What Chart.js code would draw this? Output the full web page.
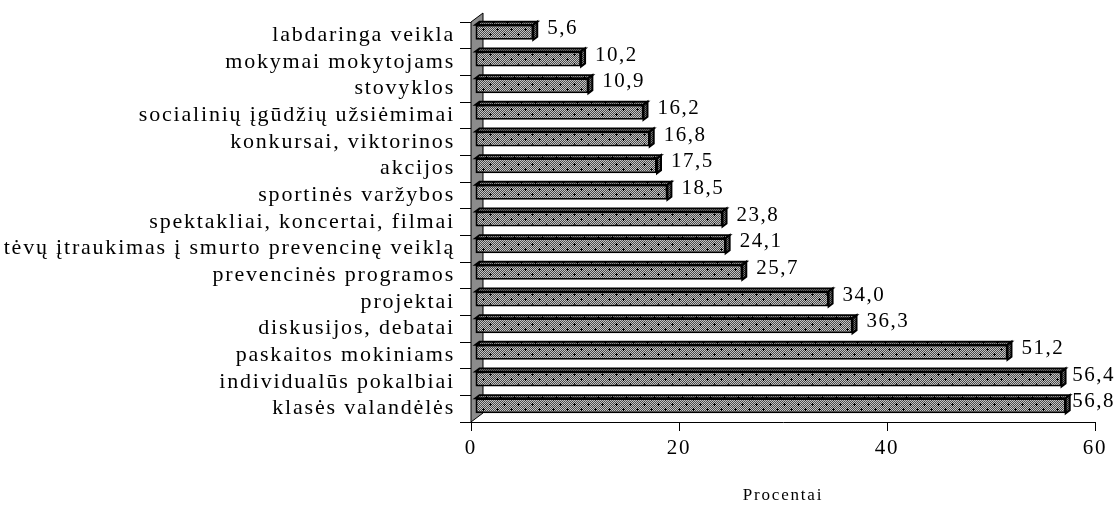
<!DOCTYPE html>
<html>
<head>
<meta charset="utf-8">
<script src="https://cdn.jsdelivr.net/npm/chart.js@4.4.0/dist/chart.umd.min.js"></script>
<style>
  html, body { margin: 0; padding: 0; background: #fff; }
  #wrap { width: 1118px; height: 506px; }
</style>
</head>
<body>
<div id="wrap"><canvas id="c" width="1118" height="506"></canvas></div>
<script>
// Prevencinės veiklos formos (procentai)
const categories = [
  'labdaringa veikla',
  'mokymai mokytojams',
  'stovyklos',
  'socialinių įgūdžių užsiėmimai',
  'konkursai, viktorinos',
  'akcijos',
  'sportinės varžybos',
  'spektakliai, koncertai, filmai',
  'tėvų įtraukimas į smurto prevencinę veiklą',
  'prevencinės programos',
  'projektai',
  'diskusijos, debatai',
  'paskaitos mokiniams',
  'individualūs pokalbiai',
  'klasės valandėlės'
];
const percentages = [5.6, 10.2, 10.9, 16.2, 16.8, 17.5, 18.5, 23.8, 24.1, 25.7, 34.0, 36.3, 51.2, 56.4, 56.8];
const valueTicks = [0, 20, 40, 60];
const axisTitle = 'Procentai';

const FONT = '"Liberation Serif", "Times New Roman", serif';
const SPACING = '1.8px';
// 3D look: bars sit slightly behind the front plane, the side wall is deeper
const BAR_SHIFT = { dx: 4, dy: -3 };
const BAR_DEPTH = { dx: 4, dy: -3 };
const WALL_DEPTH = { dx: 12, dy: -9 };

function dither(dark, light, marks) {
  const w = 14, h = 10;
  const cv = document.createElement('canvas');
  cv.width = w; cv.height = h;
  const g = cv.getContext('2d');
  for (let y = 0; y < h; y++) {
    for (let x = 0; x < w; x++) {
      g.fillStyle = (x + y) % 2 === 0 ? dark : light;
      g.fillRect(x, y, 1, 1);
    }
  }
  if (marks) {
    g.fillStyle = '#000';
    [[3, 2], [10, 7]].forEach(([px, py]) => {
      g.fillRect(px - 1, py, 3, 1);
      g.fillRect(px, py - 1, 1, 3);
    });
  }
  return g.createPattern(cv, 'repeat');
}

const canvas = document.getElementById('c');
const ctx = canvas.getContext('2d');
const facePattern = dither('#4a4a4a', '#c4c4c4', true);
const sidePattern = dither('#1e1e1e', '#7a7a7a', false);

const letterSpacing = {
  id: 'letterSpacing',
  beforeLayout(chart) { chart.ctx.letterSpacing = SPACING; },
  beforeDraw(chart) { chart.ctx.letterSpacing = SPACING; }
};

const depth3d = {
  id: 'depth3d',
  beforeDatasetsDraw(chart) {
    const c = chart.ctx;
    const xs = chart.scales.x;
    const area = chart.chartArea;
    const x0 = xs.getPixelForValue(0);
    // side wall at zero
    c.save();
    c.beginPath();
    c.moveTo(x0, area.bottom);
    c.lineTo(x0, area.top);
    c.lineTo(x0 + WALL_DEPTH.dx, area.top + WALL_DEPTH.dy);
    c.lineTo(x0 + WALL_DEPTH.dx, area.bottom + WALL_DEPTH.dy);
    c.closePath();
    c.fillStyle = '#8c8c8c';
    c.fill();
    c.lineWidth = 1;
    c.strokeStyle = '#000';
    c.stroke();

    // top and side faces of every bar
    const meta = chart.getDatasetMeta(0);
    c.lineWidth = 2;
    c.lineJoin = 'miter';
    meta.data.forEach(el => {
      const p = el.getProps(['x', 'y', 'base', 'height'], true);
      const left = p.base + BAR_SHIFT.dx;
      const right = p.x + BAR_SHIFT.dx;
      const top = p.y - p.height / 2 + BAR_SHIFT.dy;
      const bottom = p.y + p.height / 2 + BAR_SHIFT.dy;
      c.beginPath();
      c.moveTo(left, top);
      c.lineTo(left + BAR_DEPTH.dx, top + BAR_DEPTH.dy);
      c.lineTo(right + BAR_DEPTH.dx, top + BAR_DEPTH.dy);
      c.lineTo(right, top);
      c.closePath();
      c.fillStyle = facePattern;
      c.fill();
      c.stroke();
      c.beginPath();
      c.moveTo(right, top);
      c.lineTo(right + BAR_DEPTH.dx, top + BAR_DEPTH.dy);
      c.lineTo(right + BAR_DEPTH.dx, bottom + BAR_DEPTH.dy);
      c.lineTo(right, bottom);
      c.closePath();
      c.fillStyle = sidePattern;
      c.fill();
      c.stroke();
    });
    c.restore();
  },
  beforeDatasetDraw(chart) {
    chart.ctx.save();
    chart.ctx.translate(BAR_SHIFT.dx, BAR_SHIFT.dy);
  },
  afterDatasetDraw(chart) {
    chart.ctx.restore();
  },
  afterDatasetsDraw(chart) {
    const c = chart.ctx;
    const meta = chart.getDatasetMeta(0);
    const values = chart.data.datasets[0].data;
    c.save();
    c.letterSpacing = '1.5px';
    c.font = '21px ' + FONT;
    c.fillStyle = '#000';
    c.textAlign = 'left';
    c.textBaseline = 'middle';
    meta.data.forEach((el, i) => {
      const p = el.getProps(['x', 'y'], true);
      const txt = values[i].toFixed(1).replace('.', ',');
      const w = c.measureText(txt).width;
      let tx = p.x + BAR_SHIFT.dx + BAR_DEPTH.dx + 10;
      tx = Math.min(tx, chart.width - 3 - w);
      const ty = p.y + BAR_SHIFT.dy - 4;
      c.fillText(txt, tx, ty);
    });
    c.restore();
  }
};

new Chart(ctx, {
  type: 'bar',
  data: {
    labels: categories,
    datasets: [{
      data: percentages,
      backgroundColor: facePattern,
      borderColor: '#000',
      borderWidth: 2,
      borderSkipped: false,
      barPercentage: 0.56,
      categoryPercentage: 1,
      clip: false
    }]
  },
  options: {
    indexAxis: 'y',
    responsive: false,
    animation: false,
    devicePixelRatio: 1,
    layout: { padding: { top: 22, right: 23, left: 0, bottom: 0 } },
    plugins: {
      legend: { display: false },
      tooltip: { enabled: false }
    },
    scales: {
      x: {
        min: 0,
        max: 60,
        afterBuildTicks: s => { s.ticks = valueTicks.map(v => ({ value: v })); },
        grid: { drawOnChartArea: false, drawTicks: true, tickLength: 9, color: '#000', tickColor: '#000' },
        border: { display: true, color: '#000', width: 1 },
        ticks: { color: '#000', font: { family: FONT, size: 21 }, padding: 5, maxRotation: 0 },
        title: { display: true, text: axisTitle, color: '#000', font: { family: FONT, size: 17 }, padding: { top: 0, bottom: 0 } },
        afterFit: s => { s.height = 84; }
      },
      y: {
        grid: { drawOnChartArea: false, tickLength: 11, color: '#000', tickColor: '#000', offset: true },
        border: { display: true, color: '#000', width: 1 },
        ticks: { color: '#000', font: { family: FONT, size: 22 }, padding: 5, autoSkip: false },
        afterFit: s => { s.width = 471; }
      }
    }
  },
  plugins: [letterSpacing, depth3d]
});
</script>
</body>
</html>
